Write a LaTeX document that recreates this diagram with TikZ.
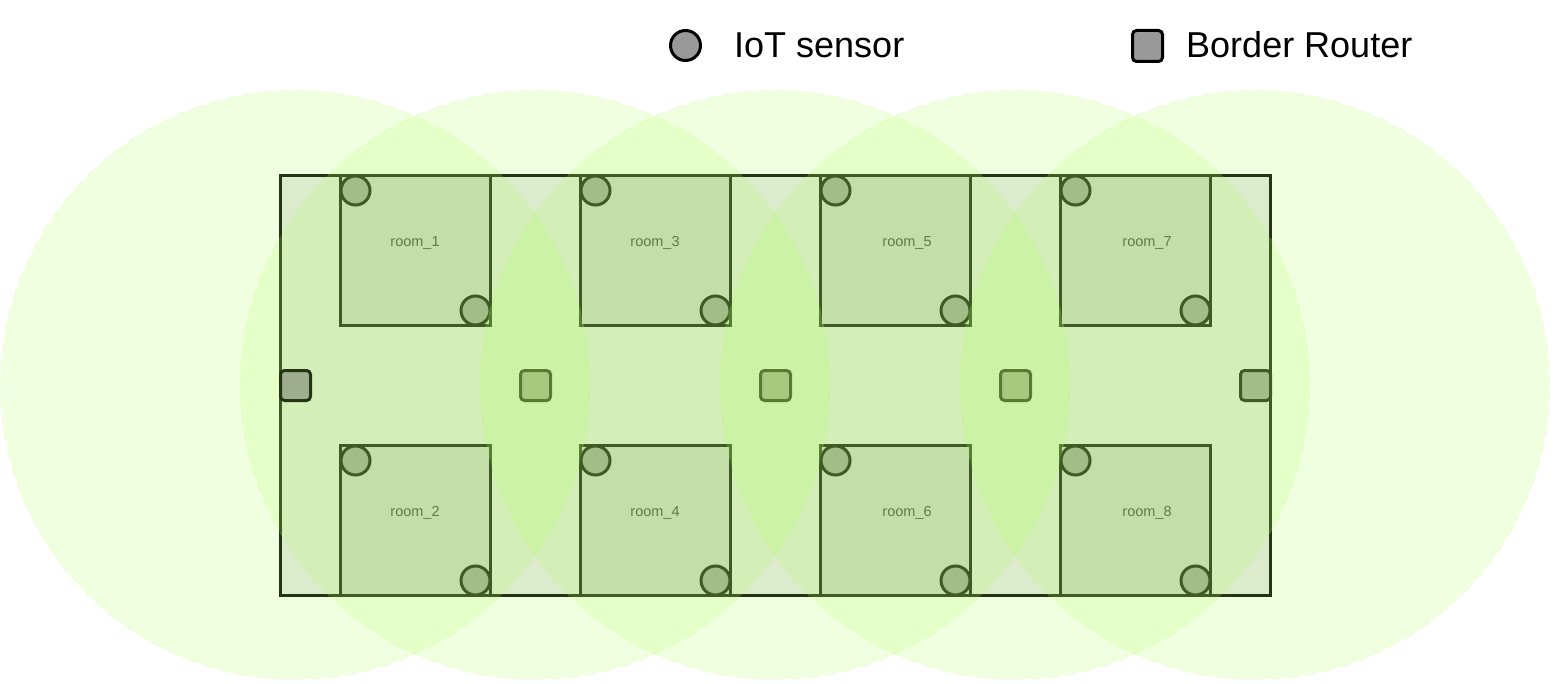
\documentclass[tikz,border=0pt]{standalone}
\usepackage{fontspec}
\setmainfont{Liberation Sans}
\tikzset{
  x=1pt,y=-1pt,
  hall/.style={draw=black,line width=3pt,fill=hallfill,minimum width=990pt,minimum height=420pt,inner sep=0pt,outer sep=0pt},
  roombox/.style={draw=black,line width=3pt,fill=roomfill,minimum width=150pt,minimum height=150pt,inner sep=0pt,outer sep=0pt},
  sensor/.style={circle,draw=black,line width=3pt,fill=gray60,minimum size=29pt,inner sep=0pt,outer sep=0pt},
  router/.style={rectangle,rounded corners=4pt,draw=black,line width=3pt,fill=gray60,minimum size=30pt,inner sep=0pt,outer sep=0pt},
  cover/.style={circle,fill=covergreen,fill opacity=0.2,draw=covergreen,draw opacity=0.2,line width=1pt,dash pattern=on 9pt off 9pt,minimum size=589pt,inner sep=0pt,outer sep=0pt},
  roomtext/.style={font=\fontsize{14.5}{16}\selectfont,text=textgray},
  legendtext/.style={font=\fontsize{36}{40}\selectfont,text=black,anchor=base west,inner sep=0pt},
}
\definecolor{hallfill}{HTML}{E6E6E6}
\definecolor{roomfill}{HTML}{CCCCCC}
\definecolor{gray60}{HTML}{999999}
\definecolor{covergreen}{HTML}{B3FF66}
\definecolor{textgray}{HTML}{333333}
\begin{document}
\begin{tikzpicture}
\useasboundingbox (0,0) rectangle (1554,684);
\node[hall] (hall) at (775.5,385.5) {};
\foreach \n/\x/\y/\tx in {1/415.5/250.5/415,2/415.5/520.5/415,3/655.5/250.5/655,4/655.5/520.5/655,5/895.5/250.5/907,6/895.5/520.5/907,7/1135.5/250.5/1147,8/1135.5/520.5/1147}{
  \node[roombox] (room\n) at (\x,\y) {};
  \node[roomtext] (label\n) at (\tx,\y-7.5) {room\_\n};
  \node[sensor] (sa\n) at (\x-60,\y-60) {};
  \node[sensor] (sb\n) at (\x+60,\y+60) {};
}
\node[router] (r2) at (535.5,385.5) {};
\node[router] (r3) at (775.5,385.5) {};
\node[router] (r4) at (1015.5,385.5) {};
\node[router] (r5) at (1255.5,385.5) {};
\node[cover] (c1) at (295,385) {};
\node[router] (r1) at (295.5,385.5) {};
\node[cover] (c2) at (535,385) {};
\node[cover] (c3) at (775,385) {};
\node[cover] (c4) at (1015,385) {};
\node[cover] (c5) at (1255,385) {};
\node[sensor,minimum size=30pt] (ls) at (685.5,45.5) {};
\node[legendtext] (lt1) at (734,58) {IoT sensor};
\node[router,minimum width=30pt,minimum height=31pt] (lr) at (1147.5,46) {};
\node[legendtext] (lt2) at (1186,58) {Border Router};
\end{tikzpicture}
\end{document}
